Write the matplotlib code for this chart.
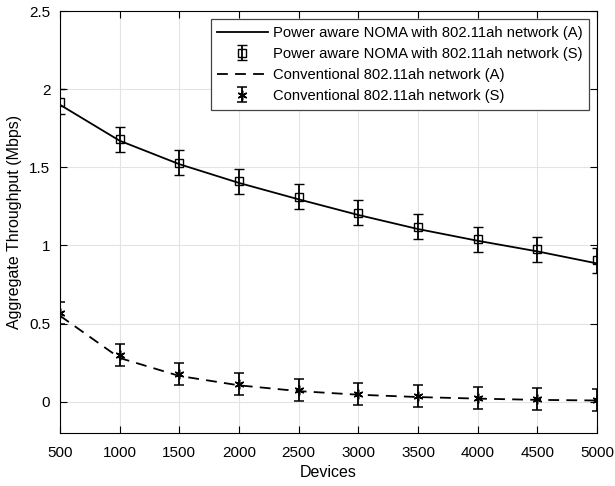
import matplotlib
matplotlib.use("Agg")
import matplotlib.pyplot as plt

plt.rcParams['font.family'] = ['Liberation Sans', 'DejaVu Sans']

devices = [500, 1000, 1500, 2000, 2500, 3000, 3500, 4000, 4500, 5000]
noma_a = [1.90, 1.67, 1.52, 1.40, 1.295, 1.195, 1.105, 1.03, 0.962, 0.885]
noma_s = [1.92, 1.68, 1.53, 1.41, 1.31, 1.21, 1.12, 1.04, 0.975, 0.905]
noma_err = [0.08, 0.08, 0.08, 0.08, 0.08, 0.08, 0.08, 0.08, 0.08, 0.08]
conv_a = [0.55, 0.28, 0.165, 0.105, 0.068, 0.045, 0.03, 0.02, 0.012, 0.008]
conv_s = [0.57, 0.30, 0.18, 0.115, 0.075, 0.05, 0.035, 0.025, 0.017, 0.011]
conv_err = [0.07, 0.07, 0.07, 0.07, 0.07, 0.07, 0.07, 0.07, 0.07, 0.07]

fig = plt.figure(figsize=(6.15, 4.86), dpi=100)
ax = fig.add_axes([60/615, 1-433/486, 537/615, 422/486])

h1, = ax.plot(devices, noma_a, '-', color='black', lw=1.3,
              label='Power aware NOMA with 802.11ah network (A)')
h2 = ax.errorbar(devices, noma_s, yerr=noma_err, linestyle='none', marker='s',
                 color='black', mfc='none', ms=5.5, mew=1.0, capsize=3.5,
                 elinewidth=1.3, capthick=1.3,
                 label='Power aware NOMA with 802.11ah network (S)')
h3, = ax.plot(devices, conv_a, '--', color='black', lw=1.3, dashes=(6, 4),
              label='Conventional 802.11ah network (A)')
h4 = ax.errorbar(devices, conv_s, yerr=conv_err, linestyle='none',
                 marker=(6, 2, 0), color='black', ms=7, mew=1.1, capsize=3.5,
                 elinewidth=1.3, capthick=1.3,
                 label='Conventional 802.11ah network (S)')

ax.set_xlim(500, 5000)
ax.set_ylim(-0.2, 2.5)
ax.set_xticks(devices)
ax.set_xticklabels([str(d) for d in devices])
ax.set_yticks([0, 0.5, 1, 1.5, 2, 2.5])
ax.set_yticklabels(['0', '0.5', '1', '1.5', '2', '2.5'])
ax.grid(True, color='#e3e3e3', lw=0.8)
ax.set_axisbelow(True)
ax.tick_params(direction='in', top=True, right=True, labelsize=11, length=5)
ax.tick_params(axis='x', pad=9)
ax.tick_params(axis='y', pad=7)
for s in ax.spines.values():
    s.set_linewidth(0.8)
ax.set_xlabel('Devices', fontsize=11.5, labelpad=4)
ax.set_ylabel('Aggregate Throughput (Mbps)', fontsize=11.5, labelpad=5)

leg = ax.legend(handles=[h1, h2, h3, h4], loc='upper right', fontsize=10.6,
                frameon=True, fancybox=False, edgecolor='#444444',
                framealpha=1, borderaxespad=0.55, borderpad=0.45,
                handlelength=3.4, handletextpad=0.35, labelspacing=0.48)
leg.get_frame().set_linewidth(0.9)

fig.savefig('out.png', dpi=100)
